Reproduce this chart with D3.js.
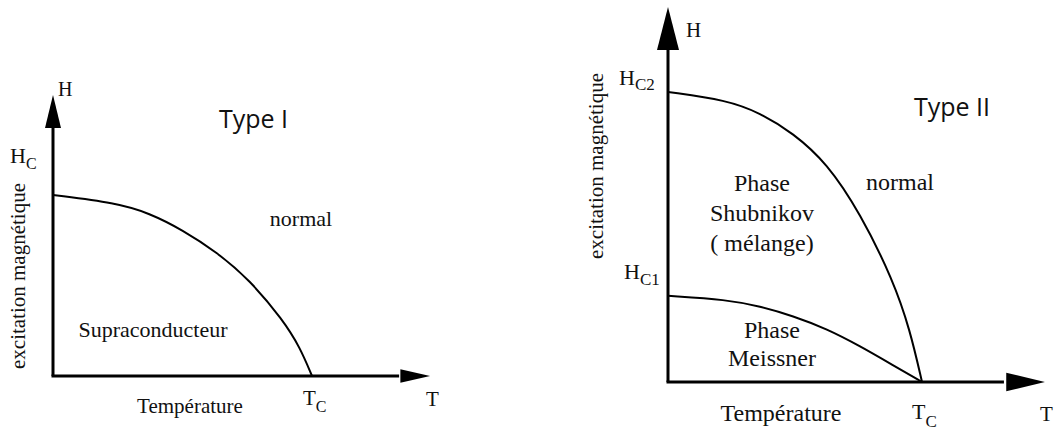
<!DOCTYPE html>
<html>
<head>
<meta charset="utf-8">
<script src="https://cdn.jsdelivr.net/npm/d3@7"></script>
<style>
  body { margin: 0; background: #fff; }
  svg { display: block; }
</style>
</head>
<body>
<div id="chart"></div>
<script>
// critical field curves: [T/Tc, H/Hc]
var type1Curve = [[0,1],[0.244,0.956],[0.372,0.90],[0.5,0.807],[0.632,0.685],[0.76,0.53],[0.888,0.309],[0.953,0.16],[1,0]];
var hc2Curve = [[0,1],[0.232,0.972],[0.362,0.928],[0.492,0.859],[0.626,0.755],[0.756,0.583],[0.886,0.352],[0.953,0.179],[1,0]];
var hc1Curve = [[0,0.297],[0.232,0.284],[0.362,0.261],[0.492,0.228],[0.626,0.183],[0.756,0.124],[0.886,0.058],[1,0]];

// axis lengths (arrow tips) in the same units
var axisEndT = [1.456, 1.484];
var axisEndH = [1.552, 1.293];

var titles = ["Type I", "Type II"];
var yTitle = "excitation magnétique";
var xTitle = "Température";

var width = 1054, height = 431;
var SERIF = "'Liberation Serif', 'Times New Roman', Times, 'DejaVu Serif', serif";
var SANS = "'Open Sans', 'Liberation Sans', sans-serif";

var svg = d3.select("#chart").append("svg")
    .attr("width", width)
    .attr("height", height);

var line = d3.line().curve(d3.curveBasis);

function serifText(g, x, y, size, txt) {
    return g.append("text")
        .attr("x", x).attr("y", y)
        .attr("font-family", SERIF)
        .attr("font-size", size)
        .attr("fill", "#111")
        .text(txt);
}

function subLabel(g, x, y, main, sub, size, subSize, dy) {
    var t = g.append("text")
        .attr("x", x).attr("y", y)
        .attr("font-family", SERIF)
        .attr("font-size", size)
        .attr("fill", "#111");
    t.append("tspan").text(main);
    t.append("tspan").attr("dy", dy).attr("font-size", subSize).text(sub);
}

function drawAxes(g, x, y, tEnd, hEnd, arrowW, arrowL) {
    g.append("line")
        .attr("x1", x(0)).attr("y1", y(0))
        .attr("x2", x(0)).attr("y2", y(hEnd) + arrowL - 2)
        .attr("stroke", "#000").attr("stroke-width", 3);
    g.append("line")
        .attr("x1", x(0) - 1.5).attr("y1", y(0))
        .attr("x2", x(tEnd) - arrowL + 2).attr("y2", y(0))
        .attr("stroke", "#000").attr("stroke-width", 3);
    // arrow heads
    g.append("path")
        .attr("d", "M" + x(0) + "," + y(hEnd) + "L" + (x(0) - arrowW / 2) + "," + (y(hEnd) + arrowL) +
              "L" + (x(0) + arrowW / 2) + "," + (y(hEnd) + arrowL) + "Z")
        .attr("fill", "#000");
    var ah = arrowW * 0.85;
    g.append("path")
        .attr("d", "M" + x(tEnd) + "," + y(0) + "L" + (x(tEnd) - arrowL * 0.9) + "," + (y(0) - ah / 2) +
              "L" + (x(tEnd) - arrowL * 0.9) + "," + (y(0) + ah / 2) + "Z")
        .attr("fill", "#000");
}

function drawCurve(g, x, y, pts) {
    g.append("path")
        .datum(pts)
        .attr("d", line.x(function(d){ return x(d[0]); }).y(function(d){ return y(d[1]); }))
        .attr("fill", "none")
        .attr("stroke", "#000")
        .attr("stroke-width", 2);
}

// ---------- Type I ----------
var g1 = svg.append("g");
var x1 = d3.scaleLinear().domain([0, 1]).range([53, 312]);
var y1 = d3.scaleLinear().domain([0, 1]).range([376, 195]);

drawCurve(g1, x1, y1, type1Curve);
drawAxes(g1, x1, y1, axisEndT[0], axisEndH[0], 16, 33);

serifText(g1, 0, 0, 21, yTitle)
    .attr("transform", "translate(25,276) rotate(-90)")
    .attr("text-anchor", "middle");
serifText(g1, 58, 96, 20, "H");
subLabel(g1, 10, 163, "H", "C", 22, 16, 6);
g1.append("text")
    .attr("x", 219).attr("y", 128)
    .attr("font-family", SANS).attr("font-size", 25).attr("fill", "#111")
    .text(titles[0]);
serifText(g1, 301, 226, 22, "normal").attr("text-anchor", "middle");
serifText(g1, 153, 337, 22, "Supraconducteur").attr("text-anchor", "middle");
serifText(g1, 190, 413, 21, xTitle).attr("text-anchor", "middle");
subLabel(g1, 303, 405, "T", "C", 21, 16, 7);
serifText(g1, 426, 406, 21, "T");

// ---------- Type II ----------
var g2 = svg.append("g");
var x2 = d3.scaleLinear().domain([0, 1]).range([668, 922]);
var y2 = d3.scaleLinear().domain([0, 1]).range([382, 92]);

drawCurve(g2, x2, y2, hc2Curve);
drawCurve(g2, x2, y2, hc1Curve);
drawAxes(g2, x2, y2, axisEndT[1], axisEndH[1], 22, 43);

serifText(g2, 0, 0, 21, yTitle)
    .attr("transform", "translate(603,166) rotate(-90)")
    .attr("text-anchor", "middle");
serifText(g2, 686, 37, 21, "H");
subLabel(g2, 619, 85, "H", "C2", 22, 17, 5);
subLabel(g2, 624, 279, "H", "C1", 22, 17, 6);
g2.append("text")
    .attr("x", 914).attr("y", 116)
    .attr("font-family", SANS).attr("font-size", 25).attr("fill", "#111")
    .text(titles[1]);
serifText(g2, 900, 190, 24, "normal").attr("text-anchor", "middle");

var shub = ["Phase", "Shubnikov", "( mélange)"];
g2.selectAll(".shub").data(shub).enter().append("text")
    .attr("class", "shub")
    .attr("x", 762).attr("y", function(d, i){ return 191 + i * 30; })
    .attr("text-anchor", "middle")
    .attr("font-family", SERIF).attr("font-size", 24).attr("fill", "#111")
    .text(function(d){ return d; });
var meis = ["Phase", "Meissner"];
g2.selectAll(".meis").data(meis).enter().append("text")
    .attr("class", "meis")
    .attr("x", 772).attr("y", function(d, i){ return 338 + i * 28; })
    .attr("text-anchor", "middle")
    .attr("font-family", SERIF).attr("font-size", 24).attr("fill", "#111")
    .text(function(d){ return d; });

serifText(g2, 781, 421, 24, xTitle).attr("text-anchor", "middle");
subLabel(g2, 912, 419, "T", "C", 22, 17, 8);
serifText(g2, 1040, 421, 21, "T");
</script>
</body>
</html>
